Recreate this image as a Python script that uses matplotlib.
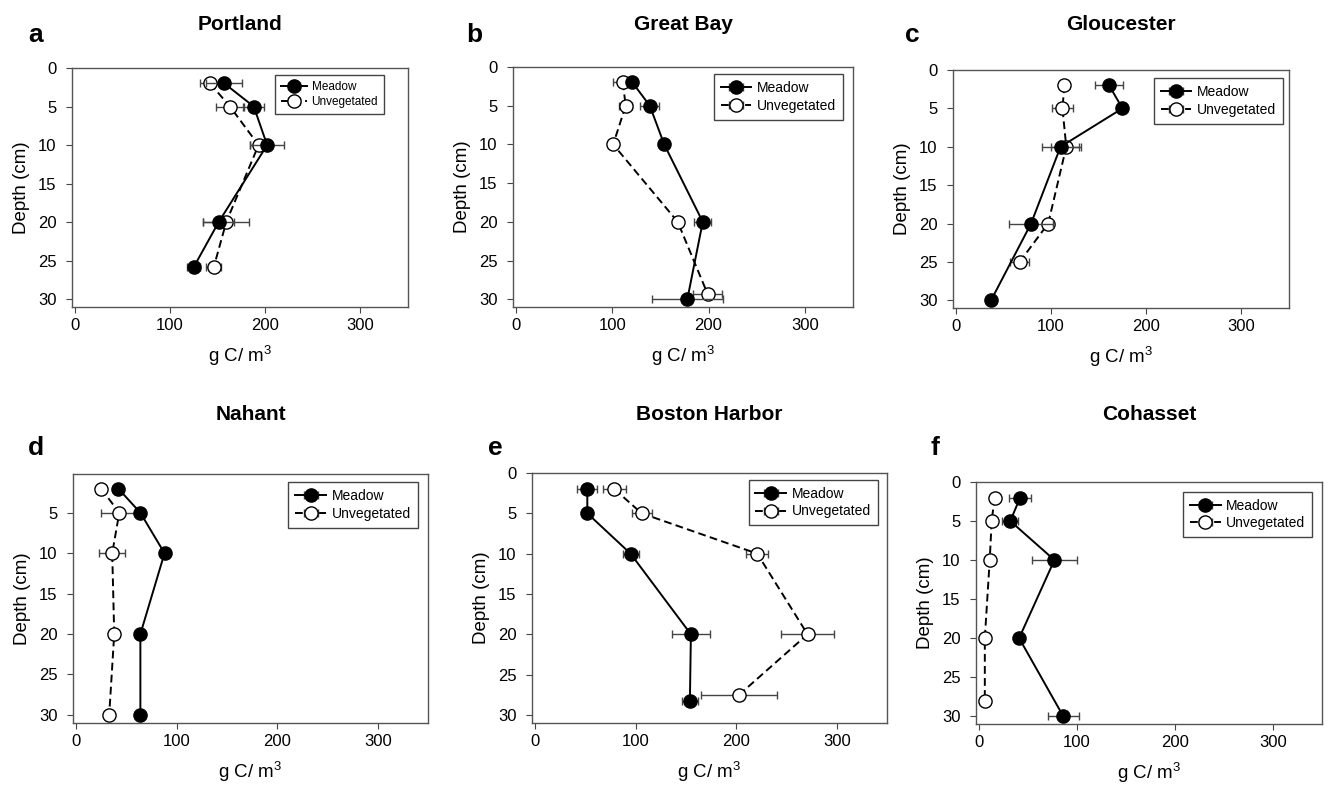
import matplotlib.pyplot as plt

plt.rcParams['font.family'] = ['Liberation Sans', 'DejaVu Sans']
plt.rcParams['mathtext.fontset'] = 'custom'
plt.rcParams['mathtext.rm'] = 'Liberation Sans'

# depth (cm), carbon density (g C / m3) and SE for each site
portland_m_depth = [2, 5, 10, 20, 25.8]
portland_m_c = [157, 188, 202, 151, 125]
portland_m_err = [19, 11, 18, 16, 7]
portland_u_depth = [2, 5, 10, 20, 25.8]
portland_u_c = [142, 163, 193, 159, 146]
portland_u_err = [10, 15, 9, 24, 8]

greatbay_m_depth = [2, 5, 10, 20, 30]
greatbay_m_c = [121, 139, 154, 194, 178]
greatbay_m_err = [3, 10, 4, 9, 37]
greatbay_u_depth = [2, 5, 10, 20, 29.3]
greatbay_u_c = [111, 114, 101, 168, 199]
greatbay_u_err = [10, 7, 4, 1, 15]

glouc_m_depth = [2, 5, 10, 20, 30]
glouc_m_c = [161, 175, 110, 79, 37]
glouc_m_err = [15, 3, 19, 23, 2]
glouc_u_depth = [2, 5, 10, 20, 25]
glouc_u_c = [114, 112, 116, 97, 67]
glouc_u_err = [5, 11, 16, 3, 10]

nahant_m_depth = [2, 5, 10, 20, 30]
nahant_m_c = [42, 64, 88, 64, 64]
nahant_m_err = [2, 2, 2, 2, 2]
nahant_u_depth = [2, 5, 10, 20, 30]
nahant_u_c = [25, 43, 36, 38, 33]
nahant_u_err = [2, 18, 13, 3, 2]

boston_m_depth = [2, 5, 10, 20, 28.3]
boston_m_c = [52, 52, 95, 155, 154]
boston_m_err = [10, 3, 8, 19, 8]
boston_u_depth = [2, 5, 10, 20, 27.5]
boston_u_c = [79, 106, 221, 271, 203]
boston_u_err = [11, 10, 11, 26, 38]

cohasset_m_depth = [2, 5, 10, 20, 30]
cohasset_m_c = [42, 32, 77, 41, 86]
cohasset_m_err = [11, 8, 23, 2, 16]
cohasset_u_depth = [2, 5, 10, 20, 28]
cohasset_u_c = [16, 13, 11, 6, 6]
cohasset_u_err = [1, 1, 1, 1, 1]

xticks = [0, 100, 200, 300]
yticks = [0, 5, 10, 15, 20, 25, 30]

W, H = 1328, 794
fig = plt.figure(figsize=(W / 100, H / 100), dpi=100)


def add_ax(left, top, right, bottom):
	return fig.add_axes([left / W, 1 - bottom / H, (right - left) / W, (bottom - top) / H])


def plotSite(ax, title, title_y, m, u, legpos, legsize=10, ytop=0, ticks=yticks):
	ax.errorbar(m[1], m[0], xerr=m[2], color='black', lw=1.4, marker='o', ms=9.5,
		mfc='black', mec='black', ecolor='#444444', elinewidth=1, capsize=3,
		label='Meadow', zorder=3)
	ax.errorbar(u[1], u[0], xerr=u[2], color='black', lw=1.4, ls=(0, (4, 2.2)), marker='o',
		ms=9.5, mfc='white', mec='black', mew=1, ecolor='#444444', elinewidth=1, capsize=3,
		label='Unvegetated', zorder=2)
	ax.set_xlim(-3, 350)
	ax.set_ylim(31, ytop)
	ax.set_xticks(xticks)
	ax.set_yticks(ticks)
	ax.tick_params(labelsize=12, length=4, width=0.8, color='#444444')
	ax.tick_params(axis='x', pad=4)
	ax.tick_params(axis='y', pad=7)
	for s in ax.spines.values():
		s.set_color('#555555')
		s.set_linewidth(1)
	ax.set_xlabel('g C/ m$^3$', fontsize=13.5, labelpad=7)
	ax.set_ylabel('Depth (cm)', fontsize=13.5, labelpad=6)

	# site name centred over the axes
	bb = ax.get_position()
	fig.text((bb.x0 + bb.x1) / 2, 1 - title_y / H, title, fontsize=15, fontweight='bold',
		ha='center', va='center')

	leg = ax.legend(loc='upper left', bbox_to_anchor=legpos, fontsize=legsize, fancybox=False,
		framealpha=1, edgecolor='#444444', handlelength=2.2, borderpad=0.5,
		labelspacing=0.25, handletextpad=0.4, borderaxespad=0)
	leg.get_frame().set_linewidth(1)


ax = add_ax(72, 68, 408, 307)
plotSite(ax, 'Portland', 25, (portland_m_depth, portland_m_c, portland_m_err),
	(portland_u_depth, portland_u_c, portland_u_err), (0.604, 0.97), legsize=8.5)
ax = add_ax(513, 67, 853, 307)
plotSite(ax, 'Great Bay', 25, (greatbay_m_depth, greatbay_m_c, greatbay_m_err),
	(greatbay_u_depth, greatbay_u_c, greatbay_u_err), (0.59, 0.97))
ax = add_ax(953, 70, 1289, 308)
plotSite(ax, 'Gloucester', 25, (glouc_m_depth, glouc_m_c, glouc_m_err),
	(glouc_u_depth, glouc_u_c, glouc_u_err), (0.597, 0.965))
ax = add_ax(73, 474, 428, 723)
plotSite(ax, 'Nahant', 414, (nahant_m_depth, nahant_m_c, nahant_m_err),
	(nahant_u_depth, nahant_u_c, nahant_u_err), (0.607, 0.967), ytop=0.2,
	ticks=yticks[1:])
ax = add_ax(532, 473, 887, 723)
plotSite(ax, 'Boston Harbor', 414, (boston_m_depth, boston_m_c, boston_m_err),
	(boston_u_depth, boston_u_c, boston_u_err), (0.61, 0.972))
ax = add_ax(976, 482, 1322, 724)
plotSite(ax, 'Cohasset', 414, (cohasset_m_depth, cohasset_m_c, cohasset_m_err),
	(cohasset_u_depth, cohasset_u_c, cohasset_u_err), (0.599, 0.96))

for letter, x, y in [('a', 28, 42), ('b', 466, 42), ('c', 905, 42),
		('d', 28, 455), ('e', 488, 455), ('f', 930, 455)]:
	fig.text(x / W, 1 - y / H, letter, fontsize=19, fontweight='bold')

fig.savefig('out.png', dpi=100, facecolor='white')
